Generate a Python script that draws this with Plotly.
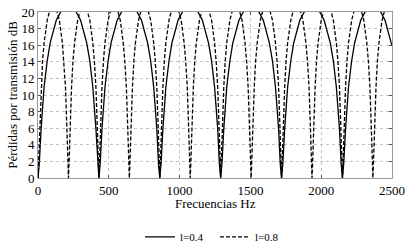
import plotly.graph_objects as go

# l = 0.4 (solid)
freq_04 = [0, 9, 22, 43, 65, 86, 129, 172, 215, 258, 301, 344, 366, 387, 409, 421,
           430, 439, 452, 473, 495, 516, 559, 602, 645, 688, 731, 774, 796, 817, 839, 851,
           860, 869, 882, 903, 925, 946, 989, 1032, 1075, 1118, 1161, 1204, 1226, 1247, 1269, 1281,
           1290, 1299, 1312, 1333, 1355, 1376, 1419, 1462, 1505, 1548, 1591, 1634, 1656, 1677, 1699, 1711,
           1720, 1729, 1742, 1763, 1785, 1806, 1849, 1892, 1935, 1978, 2021, 2064, 2086, 2107, 2129, 2141,
           2150, 2159, 2172, 2193, 2215, 2236, 2279, 2322, 2365, 2408, 2451, 2494, 2500]
tl_04 = [0, 1.68, 5.95, 10.96, 14.10, 16.28, 19.00, 20.39, 20.83, 20.39, 19.00, 16.28, 14.10, 10.96, 5.95, 1.68,
         0, 1.68, 5.95, 10.96, 14.10, 16.28, 19.00, 20.39, 20.83, 20.39, 19.00, 16.28, 14.10, 10.96, 5.95, 1.68,
         0, 1.68, 5.95, 10.96, 14.10, 16.28, 19.00, 20.39, 20.83, 20.39, 19.00, 16.28, 14.10, 10.96, 5.95, 1.68,
         0, 1.68, 5.95, 10.96, 14.10, 16.28, 19.00, 20.39, 20.83, 20.39, 19.00, 16.28, 14.10, 10.96, 5.95, 1.68,
         0, 1.68, 5.95, 10.96, 14.10, 16.28, 19.00, 20.39, 20.83, 20.39, 19.00, 16.28, 14.10, 10.96, 5.95, 1.68,
         0, 1.68, 5.95, 10.96, 14.10, 16.28, 19.00, 20.39, 20.83, 20.39, 19.00, 16.28, 16.0]

# l = 0.8 (dashed)
freq_08 = [0, 4, 11, 22, 32, 43, 65, 86, 108, 129, 151, 172, 183, 194, 204, 211,
           215, 219, 226, 237, 247, 258, 280, 301, 323, 344, 366, 387, 398, 409, 419, 426,
           430, 434, 441, 452, 462, 473, 495, 516, 538, 559, 581, 602, 613, 624, 634, 641,
           645, 649, 656, 667, 677, 688, 710, 731, 753, 774, 796, 817, 828, 839, 849, 856,
           860, 864, 871, 882, 892, 903, 925, 946, 968, 989, 1011, 1032, 1043, 1054, 1064, 1071,
           1075, 1079, 1086, 1097, 1107, 1118, 1140, 1161, 1183, 1204, 1226, 1247, 1258, 1269, 1279, 1286,
           1290, 1294, 1301, 1312, 1322, 1333, 1355, 1376, 1398, 1419, 1441, 1462, 1473, 1484, 1494, 1501,
           1505, 1509, 1516, 1527, 1537, 1548, 1570, 1591, 1613, 1634, 1656, 1677, 1688, 1699, 1709, 1716,
           1720, 1724, 1731, 1742, 1752, 1763, 1785, 1806, 1828, 1849, 1871, 1892, 1903, 1914, 1924, 1931,
           1935, 1939, 1946, 1957, 1967, 1978, 2000, 2021, 2043, 2064, 2086, 2107, 2118, 2129, 2139, 2146,
           2150, 2154, 2161, 2172, 2182, 2193, 2215, 2236, 2258, 2279, 2301, 2322, 2333, 2344, 2354, 2361,
           2365, 2369, 2376, 2387, 2397, 2408, 2430, 2451, 2473, 2494, 2500]
tl_08 = [0, 1.68, 5.95, 10.96, 14.10, 16.28, 19.00, 20.39, 20.83, 20.39, 19.00, 16.28, 14.10, 10.96, 5.95, 1.68,
         0, 1.68, 5.95, 10.96, 14.10, 16.28, 19.00, 20.39, 20.83, 20.39, 19.00, 16.28, 14.10, 10.96, 5.95, 1.68,
         0, 1.68, 5.95, 10.96, 14.10, 16.28, 19.00, 20.39, 20.83, 20.39, 19.00, 16.28, 14.10, 10.96, 5.95, 1.68,
         0, 1.68, 5.95, 10.96, 14.10, 16.28, 19.00, 20.39, 20.83, 20.39, 19.00, 16.28, 14.10, 10.96, 5.95, 1.68,
         0, 1.68, 5.95, 10.96, 14.10, 16.28, 19.00, 20.39, 20.83, 20.39, 19.00, 16.28, 14.10, 10.96, 5.95, 1.68,
         0, 1.68, 5.95, 10.96, 14.10, 16.28, 19.00, 20.39, 20.83, 20.39, 19.00, 16.28, 14.10, 10.96, 5.95, 1.68,
         0, 1.68, 5.95, 10.96, 14.10, 16.28, 19.00, 20.39, 20.83, 20.39, 19.00, 16.28, 14.10, 10.96, 5.95, 1.68,
         0, 1.68, 5.95, 10.96, 14.10, 16.28, 19.00, 20.39, 20.83, 20.39, 19.00, 16.28, 14.10, 10.96, 5.95, 1.68,
         0, 1.68, 5.95, 10.96, 14.10, 16.28, 19.00, 20.39, 20.83, 20.39, 19.00, 16.28, 14.10, 10.96, 5.95, 1.68,
         0, 1.68, 5.95, 10.96, 14.10, 16.28, 19.00, 20.39, 20.83, 20.39, 19.00, 16.28, 14.10, 10.96, 5.95, 1.68,
         0, 1.68, 5.95, 10.96, 14.10, 16.28, 19.00, 20.39, 20.83, 20.39, 19.00, 16.28, 14.10, 10.96, 5.95, 1.68,
         0, 1.68, 5.95, 10.96, 14.10, 16.28, 19.00, 20.39, 20.83, 20.39, 20.11]

x_ticks = [0, 500, 1000, 1500, 2000, 2500]
y_ticks = [0, 2, 4, 6, 8, 10, 12, 14, 16, 18, 20]

FONT = "Liberation Serif"

fig = go.Figure()
fig.add_trace(go.Scatter(x=freq_04, y=tl_04, mode="lines", name="l=0.4",
                         line=dict(color="black", width=1.3)))
fig.add_trace(go.Scatter(x=freq_08, y=tl_08, mode="lines", name="l=0.8",
                         line=dict(color="black", width=1.3, dash="4px,2px")))

axis_common = dict(showline=True, linecolor="#9a9a9a", linewidth=1, mirror="allticks",
                   ticks="inside", ticklen=3, tickcolor="#555", showgrid=True,
                   gridcolor="#c4c4c4", griddash="dot", gridwidth=1, zeroline=False,
                   automargin=False,
                   tickfont=dict(family=FONT, size=13, color="black"))

fig.update_xaxes(range=[0, 2500], tickvals=x_ticks, ticktext=[str(v) for v in x_ticks],
                 **axis_common)
fig.update_yaxes(range=[0, 20], tickvals=y_ticks, ticktext=[str(v) for v in y_ticks],
                 title=dict(text="Pérdidas por transmisión dB", font=dict(family=FONT, size=13, color="black"),
                            standoff=0), **axis_common)

fig.add_annotation(text="Frecuencias Hz", xref="paper", yref="paper", x=0.5, y=-0.155,
                   xanchor="center", yanchor="middle", showarrow=False,
                   font=dict(family=FONT, size=13, color="black"))

fig.update_layout(
    width=409, height=245,
    margin=dict(l=38, r=17, t=12, b=67, autoexpand=False),
    plot_bgcolor="white", paper_bgcolor="white",
    font=dict(family=FONT, size=13, color="black"),
    showlegend=True,
    legend=dict(orientation="h", x=0.5, xanchor="center", y=-0.355, yanchor="middle",
                font=dict(family=FONT, size=11, color="black"),
                itemwidth=30, entrywidth=30, entrywidthmode="pixels",
                tracegroupgap=0, bgcolor="rgba(0,0,0,0)"),
)

fig.write_html("out.html", config={"displayModeBar": False},
               post_script="document.body.style.margin='0px';document.body.style.padding='0px';")
